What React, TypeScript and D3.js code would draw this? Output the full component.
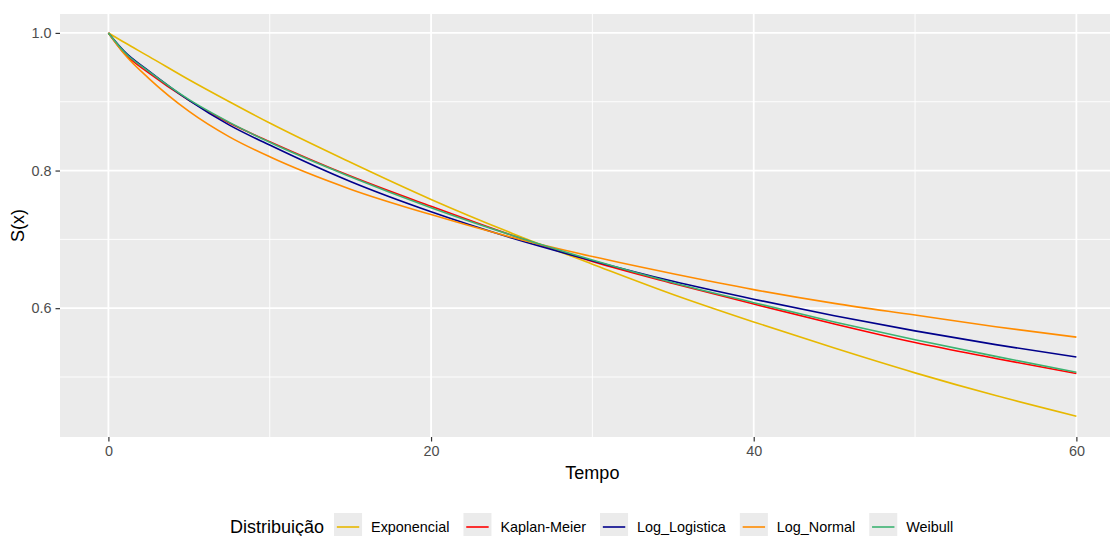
import React, { useEffect, useRef } from "react";
import * as d3 from "d3";

// tempo (x) and S(x)
const tempo = [0, 1, 2.5, 5, 7.5, 10, 15, 20, 25, 30, 35, 40, 45, 50, 55, 60];
const exponencial = [1.0, 0.986, 0.966, 0.932, 0.900, 0.869, 0.812, 0.758, 0.709, 0.664, 0.620, 0.580, 0.542, 0.506, 0.473, 0.443];
const kaplanMeier = [1.0, 0.970, 0.942, 0.902, 0.869, 0.842, 0.792, 0.748, 0.706, 0.668, 0.636, 0.606, 0.577, 0.550, 0.527, 0.505];
const logLogistica = [1.0, 0.973, 0.945, 0.902, 0.866, 0.837, 0.784, 0.740, 0.702, 0.669, 0.639, 0.613, 0.589, 0.567, 0.547, 0.529];
const logNormal = [1.0, 0.969, 0.934, 0.886, 0.849, 0.820, 0.773, 0.736, 0.703, 0.675, 0.650, 0.627, 0.607, 0.590, 0.573, 0.558];
const weibull = [1.0, 0.972, 0.944, 0.903, 0.870, 0.841, 0.791, 0.746, 0.706, 0.670, 0.637, 0.608, 0.580, 0.554, 0.530, 0.507];

const seriesNames = ["Exponencial", "Kaplan-Meier", "Log_Logistica", "Log_Normal", "Weibull"];
const seriesValues = [exponencial, kaplanMeier, logLogistica, logNormal, weibull];
const seriesColors = ["#E7B800", "#FF0000", "#00008B", "#FF8C00", "#3CB371"];

const xTicks = [0, 20, 40, 60];
const xMinor = [10, 30, 50];
const yTicks = [0.6, 0.8, 1.0];
const yMinor = [0.5, 0.7, 0.9];

const FONT = "'Liberation Sans', Arial, sans-serif";

export default function App() {
  const ref = useRef<SVGSVGElement>(null);

  useEffect(() => {
    document.body.style.margin = "0";
    const svg = d3.select(ref.current);
    svg.selectAll("*").remove();

    const panel = { left: 60, top: 14, bottom: 437 };
    const x = d3.scaleLinear().domain([-3, 63]).range([panel.left, panel.left + 66 * 16.133]);
    const y = d3.scaleLinear().domain([0.4128, 1.0275]).range([panel.bottom, panel.top]);

    // panel background
    svg.append("rect")
      .attr("x", x(-3)).attr("y", panel.top)
      .attr("width", x(63) - x(-3)).attr("height", panel.bottom - panel.top)
      .attr("fill", "#EBEBEB");

    const grid = svg.append("g");
    // minor grid
    grid.selectAll(".xmin").data(xMinor).join("line")
      .attr("x1", (d) => x(d)).attr("x2", (d) => x(d))
      .attr("y1", panel.top).attr("y2", panel.bottom)
      .attr("stroke", "#fff").attr("stroke-width", 0.9);
    grid.selectAll(".ymin").data(yMinor).join("line")
      .attr("x1", x(-3)).attr("x2", x(63))
      .attr("y1", (d) => y(d)).attr("y2", (d) => y(d))
      .attr("stroke", "#fff").attr("stroke-width", 0.9);
    // major grid
    grid.selectAll(".xmaj").data(xTicks).join("line")
      .attr("x1", (d) => x(d)).attr("x2", (d) => x(d))
      .attr("y1", panel.top).attr("y2", panel.bottom)
      .attr("stroke", "#fff").attr("stroke-width", 1.8);
    grid.selectAll(".ymaj").data(yTicks).join("line")
      .attr("x1", x(-3)).attr("x2", x(63))
      .attr("y1", (d) => y(d)).attr("y2", (d) => y(d))
      .attr("stroke", "#fff").attr("stroke-width", 1.8);

    // curves
    const line = d3.line<number>()
      .x((_, i) => x(tempo[i]))
      .y((d) => y(d))
      .curve(d3.curveMonotoneX);

    svg.append("g").selectAll("path").data(seriesValues).join("path")
      .attr("d", (d) => line(d))
      .attr("fill", "none")
      .attr("stroke", (_, i) => seriesColors[i])
      .attr("stroke-width", 1.6);

    // x axis
    const xAxis = d3.axisBottom(x).tickValues(xTicks).tickSize(4.5).tickPadding(4).tickFormat(d3.format("d"));
    const gx = svg.append("g").attr("transform", `translate(0,${panel.bottom})`).call(xAxis);
    gx.select(".domain").remove();
    gx.selectAll("line").attr("stroke", "#333333").attr("stroke-width", 1.2);
    gx.selectAll("text").attr("fill", "#4D4D4D").style("font-family", FONT).style("font-size", "14.4px");

    // y axis
    const yAxis = d3.axisLeft(y).tickValues(yTicks).tickSize(4.5).tickPadding(4).tickFormat(d3.format(".1f"));
    const gy = svg.append("g").attr("transform", `translate(${panel.left},0)`).call(yAxis);
    gy.select(".domain").remove();
    gy.selectAll("line").attr("stroke", "#333333").attr("stroke-width", 1.2);
    gy.selectAll("text").attr("fill", "#4D4D4D").style("font-family", FONT).style("font-size", "14.4px");

    // axis titles
    svg.append("text")
      .attr("x", (x(-3) + x(63)) / 2).attr("y", 479)
      .attr("text-anchor", "middle")
      .style("font-family", FONT).style("font-size", "18px").attr("fill", "#000")
      .text("Tempo");
    svg.append("text")
      .attr("transform", `translate(24,${(panel.top + panel.bottom) / 2}) rotate(-90)`)
      .attr("text-anchor", "middle")
      .style("font-family", FONT).style("font-size", "18px").attr("fill", "#000")
      .text("S(x)");

    // legend
    const legend = svg.append("g");
    const title = legend.append("text")
      .attr("x", 230).attr("y", 533)
      .style("font-family", FONT).style("font-size", "18px").attr("fill", "#000")
      .text("Distribuição");
    let cx = 230 + (title.node() as SVGTextElement).getComputedTextLength() + 10;
    const keySize = 28;
    const keyTop = 513;
    seriesNames.forEach((name, i) => {
      legend.append("rect")
        .attr("x", cx).attr("y", keyTop).attr("width", keySize).attr("height", keySize)
        .attr("fill", "#EBEBEB");
      legend.append("line")
        .attr("x1", cx + keySize * 0.1).attr("x2", cx + keySize * 0.9)
        .attr("y1", keyTop + keySize / 2).attr("y2", keyTop + keySize / 2)
        .attr("stroke", seriesColors[i]).attr("stroke-width", 1.6);
      const t = legend.append("text")
        .attr("x", cx + keySize + 9).attr("y", 532)
        .style("font-family", FONT).style("font-size", "14.4px").attr("fill", "#000")
        .text(name);
      cx += keySize + 9 + (t.node() as SVGTextElement).getComputedTextLength() + 14;
    });
  }, []);

  return (
    <svg
      ref={ref}
      width={1110}
      height={536}
      style={{ display: "block", background: "#fff", overflow: "hidden" }}
    />
  );
}
